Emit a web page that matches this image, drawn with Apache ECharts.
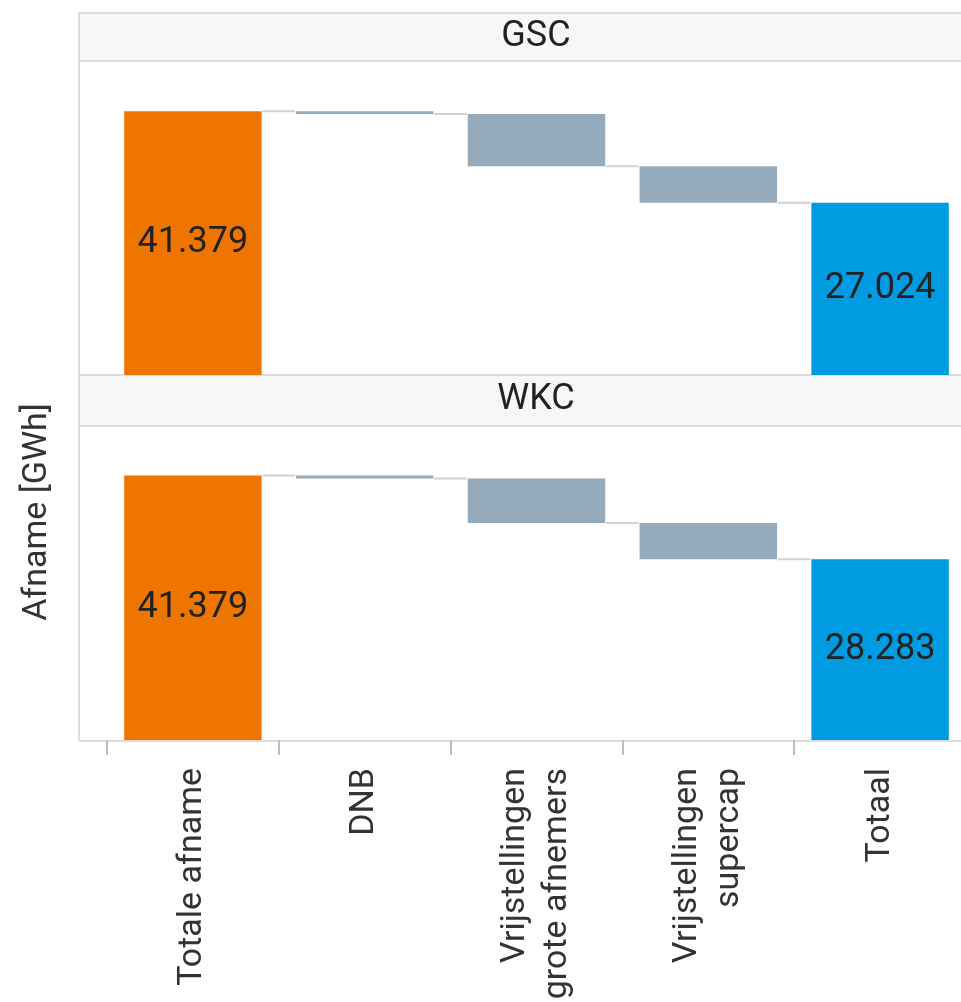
<!DOCTYPE html>
<html>
<head>
<meta charset="utf-8">
<script src="https://cdn.jsdelivr.net/npm/echarts@6/dist/echarts.min.js"></script>
<style>
  html, body { margin: 0; padding: 0; background: #fff; }
  #main { width: 961px; height: 1002px; }
</style>
</head>
<body>
<div id="main"></div>
<script>
// categories and steps (first/last are totals, middle are decreases)
const categories = ['Totale afname', 'DNB', 'Vrijstellingen\ngrote afnemers', 'Vrijstellingen\nsupercap', 'Totaal']
const panels = ['GSC', 'WKC']
const gscSteps = [41.379, -0.44, -8.18, -5.735, 27.024]
const wkcSteps = [41.379, -0.5, -6.94, -5.656, 28.283]
const yMax = 49.1

const colors = { start: '#EE7600', step: '#95AABB', end: '#009BE0' }
const font = 'Roboto, "Noto Sans", sans-serif'

// turn steps into invisible base + visible part, plus connector levels
function buildWaterfall(steps) {
  const base = [], val = [], links = []
  let level = 0
  steps.forEach((v, i) => {
    if (i === 0 || i === steps.length - 1) {
      base.push(0)
      val.push(v)
      level = v
    } else {
      base.push(level + v)
      val.push(-v)
      level = level + v
    }
    if (i < steps.length - 1) links.push([i, level])
  })
  return { base, val, links }
}

const chartDom = document.getElementById('main')
const myChart = echarts.init(chartDom)

const grids = [
  { left: 107, top: 62, width: 859, height: 313, outerBoundsMode: 'none' },
  { left: 107, top: 426, width: 859, height: 314, outerBoundsMode: 'none' },
]

const series = []
const xAxes = []
const yAxes = []
;[gscSteps, wkcSteps].forEach((steps, g) => {
  const wf = buildWaterfall(steps)
  const isBottom = g === 1
  xAxes.push({
    type: 'category',
    gridIndex: g,
    data: categories,
    boundaryGap: true,
    axisLine: { show: false },
    axisTick: {
      show: isBottom,
      length: 15,
      lineStyle: { color: '#B4C0CC', width: 2 },
    },
    axisLabel: {
      show: isBottom,
      rotate: 90,
      margin: 28,
      color: '#333',
      fontSize: 34,
      lineHeight: 42,
      fontFamily: font,
      interval: 0,
    },
  })
  yAxes.push({
    type: 'value',
    gridIndex: g,
    min: 0,
    max: yMax,
    axisLine: { show: false },
    axisTick: { show: false },
    axisLabel: { show: false },
    splitLine: { show: false },
  })
  series.push({
    type: 'bar',
    xAxisIndex: g,
    yAxisIndex: g,
    stack: 'wf' + g,
    data: wf.base,
    barCategoryGap: '20%',
    itemStyle: { color: 'transparent' },
    silent: true,
  })
  series.push({
    type: 'bar',
    xAxisIndex: g,
    yAxisIndex: g,
    stack: 'wf' + g,
    barCategoryGap: '20%',
    data: wf.val.map((v, i) => ({
      value: v,
      itemStyle: {
        color: i === 0 ? colors.start : i === wf.val.length - 1 ? colors.end : colors.step,
      },
      label: {
        show: i === 0 || i === wf.val.length - 1,
      },
    })),
    label: {
      position: 'inside',
      color: '#222',
      fontSize: 36,
      fontFamily: font,
      formatter: (p) => p.value.toFixed(3),
    },
  })
  // connector lines between bar ends
  series.push({
    type: 'custom',
    xAxisIndex: g,
    yAxisIndex: g,
    data: wf.links,
    z: 1,
    renderItem: function (params, api) {
      const p = api.coord([api.value(0), api.value(1)])
      const w = api.size([1, 0])[0]
      return {
        type: 'line',
        shape: { x1: p[0] + w * 0.405, y1: p[1], x2: p[0] + w * 0.595, y2: p[1] },
        style: { stroke: '#D2D2D2', lineWidth: 2 },
      }
    },
  })
})

const frameColor = '#DDDDDD'
const option = {
  animation: false,
  grid: grids,
  xAxis: xAxes,
  yAxis: yAxes,
  series: series,
  graphic: [
    // facet strips
    { type: 'rect', shape: { x: 79, y: 13, width: 1000, height: 48 }, style: { fill: '#F7F7F7', stroke: frameColor, lineWidth: 2 } },
    { type: 'rect', shape: { x: 79, y: 375, width: 1000, height: 51 }, style: { fill: '#F7F7F7', stroke: frameColor, lineWidth: 2 } },
    { type: 'text', x: 536, y: 37, style: { text: panels[0], fill: '#222', font: '36px ' + font, textAlign: 'center', textVerticalAlign: 'middle' } },
    { type: 'text', x: 536, y: 400, style: { text: panels[1], fill: '#222', font: '36px ' + font, textAlign: 'center', textVerticalAlign: 'middle' } },
    // frame lines
    { type: 'line', shape: { x1: 79, y1: 13, x2: 79, y2: 741 }, style: { stroke: frameColor, lineWidth: 2 } },
    { type: 'line', shape: { x1: 79, y1: 741, x2: 1000, y2: 741 }, style: { stroke: frameColor, lineWidth: 2 } },
    // y axis name
    {
      type: 'text',
      x: 37,
      y: 512,
      rotation: Math.PI / 2,
      style: { text: 'Afname [GWh]', fill: '#333', font: '34px ' + font, textAlign: 'center', textVerticalAlign: 'middle' },
    },
  ],
}

option && myChart.setOption(option)
</script>
</body>
</html>
